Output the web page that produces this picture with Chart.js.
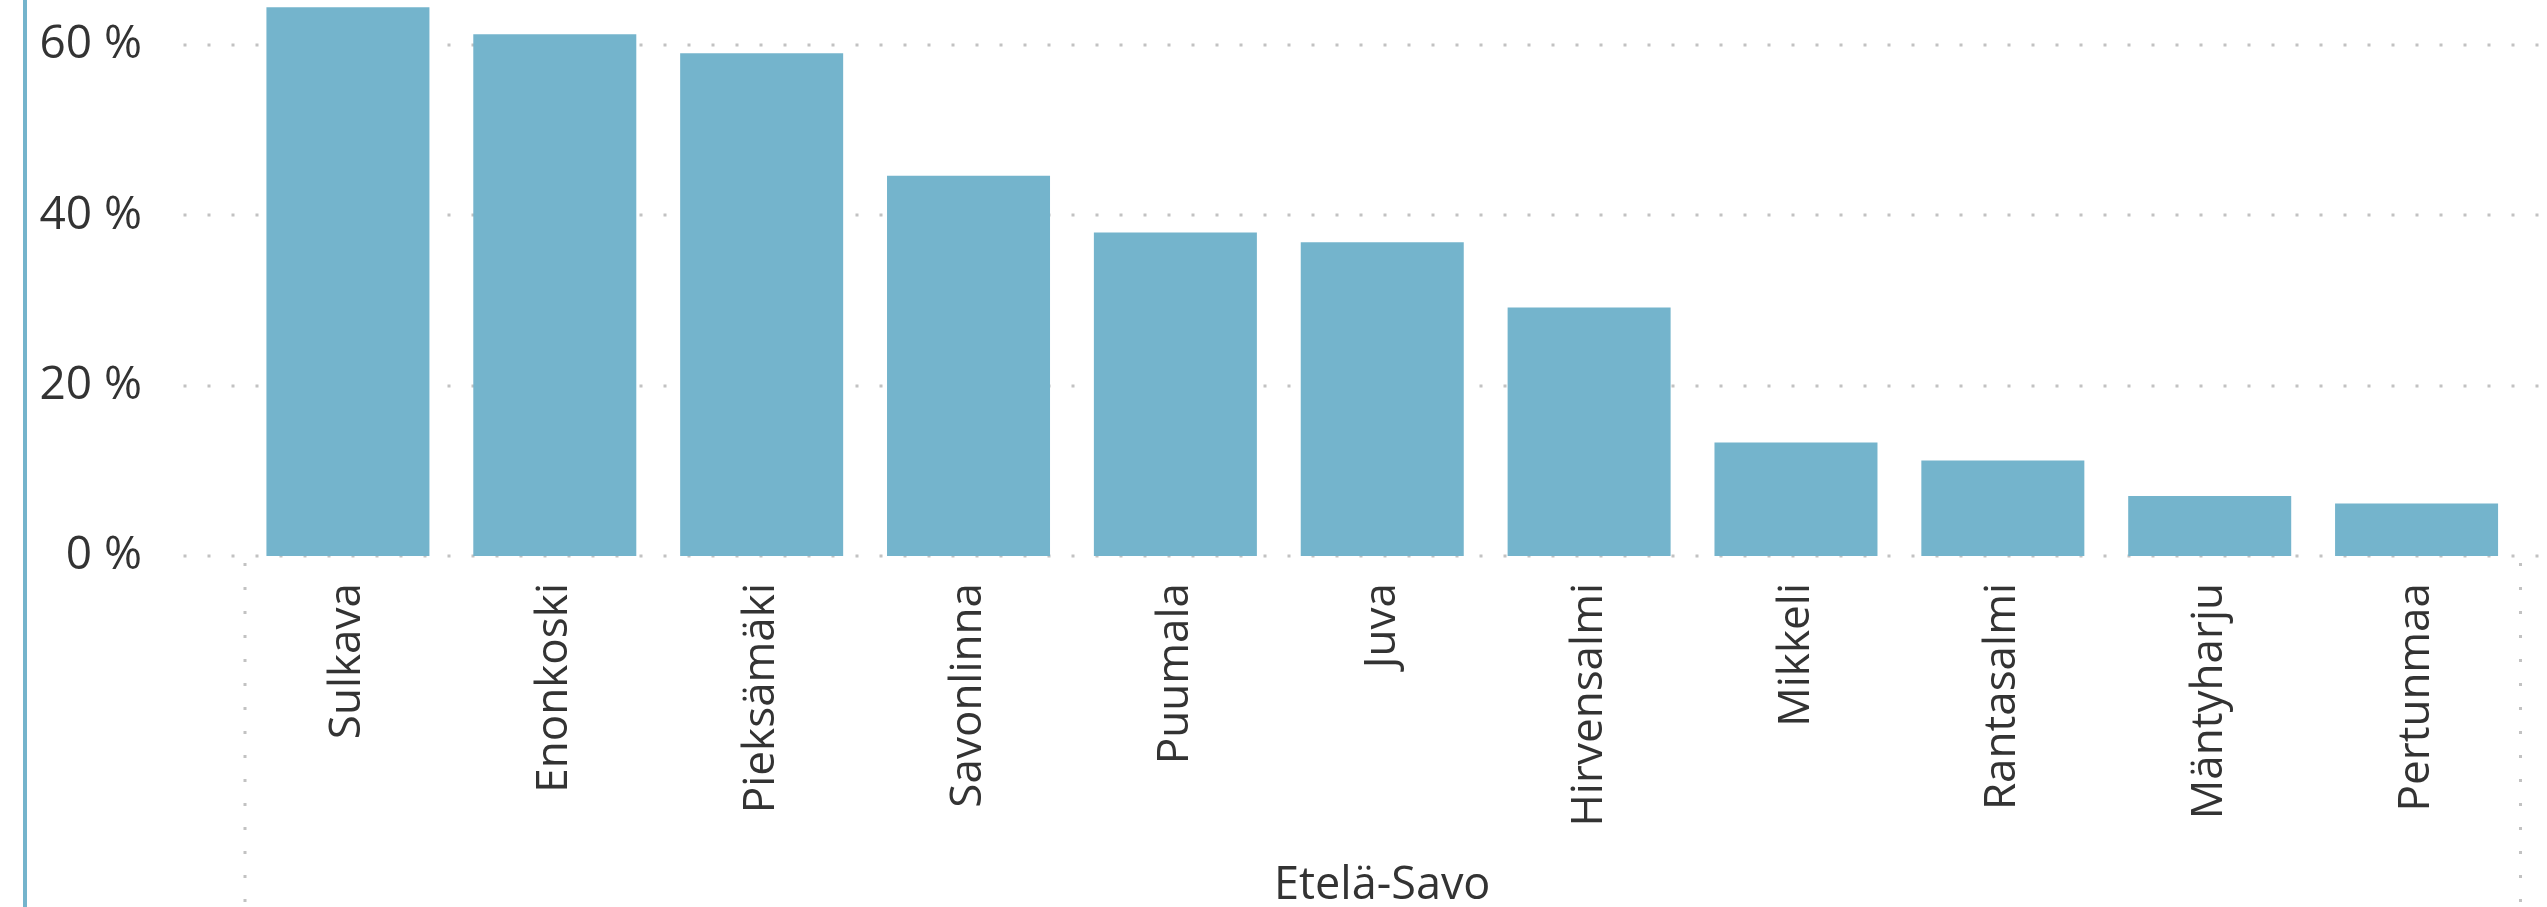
<!DOCTYPE html>
<html>
<head>
<meta charset="utf-8">
<script src="https://cdn.jsdelivr.net/npm/chart.js@4.4.0/dist/chart.umd.min.js"></script>
<style>
html,body{margin:0;padding:0;background:#fff;overflow:hidden}
#wrap{position:relative;width:2547px;height:907px}
#edge{position:absolute;left:23px;top:0;width:4px;height:907px;background:#74b4cc}
canvas{position:absolute;left:0;top:0}
</style>
</head>
<body>
<div id="wrap"><canvas id="c" width="2547" height="907"></canvas><div id="edge"></div></div>
<script>
const categories = ['Sulkava','Enonkoski','Pieksämäki','Savonlinna','Puumala','Juva','Hirvensalmi','Mikkeli','Rantasalmi','Mäntyharju','Pertunmaa'];
const shares = [64.45, 61.28, 59.05, 44.67, 37.98, 36.84, 29.2, 13.34, 11.22, 7.04, 6.17];
const yTicks = [0, 20, 40, 60];
const groupLabel = 'Etelä-Savo';

const BAR = '#74b4cc';
const TEXT = '#333333';
const DOT = '#c2c2c2';
const FONT = "'Open Sans', sans-serif";

const dottedGrid = {
  id: 'dottedGrid',
  beforeDatasetsDraw(chart) {
    const {ctx, scales: {x, y}, chartArea} = chart;
    ctx.save();
    ctx.strokeStyle = DOT;
    ctx.lineWidth = 3;
    ctx.setLineDash([3, 21]);
    yTicks.forEach(v => {
      const py = Math.round(y.getPixelForValue(v));
      ctx.beginPath();
      ctx.moveTo(chartArea.left - 61, py);
      ctx.lineTo(chartArea.right + 20, py);
      ctx.stroke();
    });
    // category group boundaries
    [x.left, x.right].forEach(px => {
      ctx.beginPath();
      ctx.moveTo(px + 0.5, chartArea.bottom + 7);
      ctx.lineTo(px + 0.5, chart.height);
      ctx.stroke();
    });
    ctx.restore();
  }
};

Chart.defaults.font.family = FONT;
Chart.defaults.color = TEXT;

new Chart(document.getElementById('c'), {
  type: 'bar',
  data: {
    labels: categories,
    datasets: [{
      data: shares,
      backgroundColor: BAR,
      borderWidth: 0,
      categoryPercentage: 1,
      barPercentage: 0.788
    }]
  },
  options: {
    responsive: false,
    animation: false,
    devicePixelRatio: 1,
    layout: {padding: {left: 0, right: 27, top: 0, bottom: 0}},
    plugins: {legend: {display: false}, tooltip: {enabled: false}},
    scales: {
      x: {
        grid: {display: false, drawTicks: false},
        border: {display: false},
        ticks: {
          minRotation: 90, maxRotation: 90, autoSkip: false,
          padding: 27,
          color: TEXT,
          font: {size: 44}
        },
        title: {
          display: true, text: groupLabel, color: TEXT,
          font: {size: 45, lineHeight: 0.8},
          padding: {top: 0, bottom: 3}
        },
        afterFit(s) { s.height = 351; s.paddingLeft = 0; s.paddingRight = 0; }
      },
      y: {
        min: 0, max: 65.3,
        grid: {display: false, drawTicks: false},
        border: {display: false},
        ticks: {
          stepSize: 20,
          padding: 102.5,
          color: TEXT,
          font: {size: 46},
          callback: v => v + ' %'
        },
        afterBuildTicks(s) { s.ticks = yTicks.map(v => ({value: v})); },
        afterFit(s) { s.width = 244.5; s.paddingTop = 0; s.paddingBottom = 0; }
      }
    }
  },
  plugins: [dottedGrid]
});
</script>
</body>
</html>
